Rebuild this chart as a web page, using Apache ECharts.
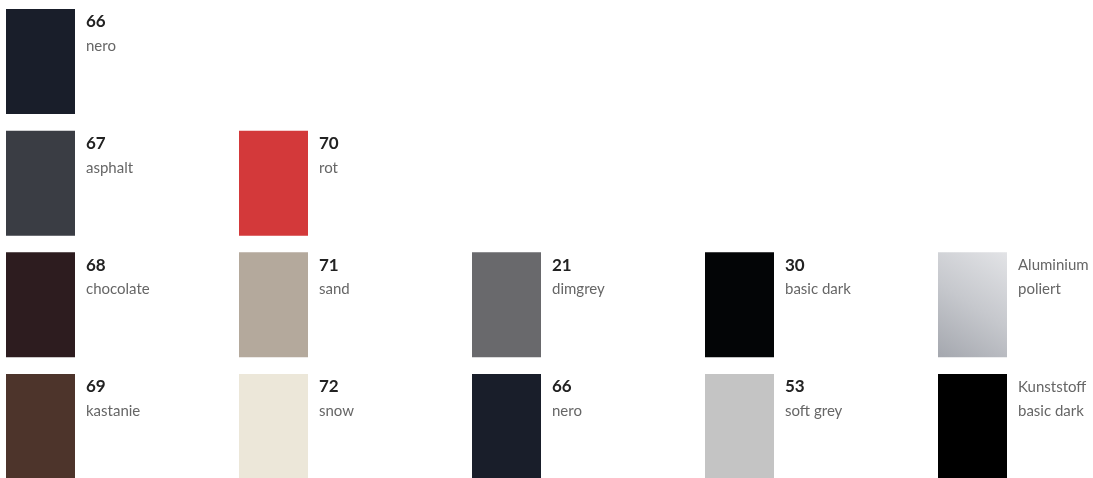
<!DOCTYPE html>
<html>
<head>
<meta charset="utf-8">
<script src="https://cdn.jsdelivr.net/npm/echarts@6/dist/echarts.min.js"></script>
<style>
  html, body { margin: 0; padding: 0; background: #fff; }
  #swatches { width: 1093px; height: 478px; }
</style>
</head>
<body>
<div id="swatches"></div>
<script>
// swatch grid: column / row index, code, name, colour
var cols = [0, 0, 1, 0, 1, 2, 3, 4, 0, 1, 2, 3, 4]
var rows = [0, 1, 1, 2, 2, 2, 2, 2, 3, 3, 3, 3, 3]
var codes = ["66", "67", "70", "68", "71", "21", "30", "", "69", "72", "66", "53", ""]
var names = ["nero", "asphalt", "rot", "chocolate", "sand", "dimgrey", "basic dark", "Aluminium\npoliert",
    "kastanie", "snow", "nero", "soft grey", "Kunststoff\nbasic dark"]
var colors = ["#191e2a", "#3a3d44", "#d3393a", "#2d1c1f", "#b4a99c", "#69696c", "#030506", "alu",
    "#4d342b", "#ece7d9", "#191e2a", "#c4c4c4", "#000000"]

var swatchW = 69
var swatchH = 105

var alu = new echarts.graphic.LinearGradient(1, 0, 0, 1, [
    { offset: 0, color: "#e2e3e6" },
    { offset: 0.5, color: "#c6c8cd" },
    { offset: 1, color: "#a4a7ae" }
])

var data = cols.map(function (c, i) {
    return [c, rows[i], i]
})

var chart = echarts.init(document.getElementById("swatches"))

var option = {
    animation: false,
    grid: { left: 6, top: 9, width: 932, height: 365 },
    xAxis: { type: "value", min: 0, max: 4, show: false },
    yAxis: { type: "value", min: 0, max: 3, inverse: true, show: false },
    series: [
        {
            type: "custom",
            data: data,
            renderItem: function (params, api) {
                var i = api.value(2)
                var p = api.coord([api.value(0), api.value(1)])
                var tx = p[0] + swatchW + 11
                var fill = colors[i] === "alu" ? alu : colors[i]
                var children = [
                    { type: "rect", shape: { x: p[0], y: p[1], width: swatchW, height: swatchH }, style: { fill: fill } }
                ]
                if (codes[i]) {
                    children.push({
                        type: "text",
                        style: { x: tx, y: p[1] + 13, text: codes[i], fill: "#222", font: "bold 17px Lato", verticalAlign: "middle" }
                    })
                    children.push({
                        type: "text",
                        style: { x: tx, y: p[1] + 37, text: names[i], fill: "#666", font: "15px Lato", verticalAlign: "middle" }
                    })
                } else {
                    children.push({
                        type: "text",
                        style: { x: tx, y: p[1] + 1, text: names[i], fill: "#666", font: "15px Lato", lineHeight: 24, verticalAlign: "top" }
                    })
                }
                return { type: "group", children: children }
            }
        }
    ]
}

chart.setOption(option)
</script>
</body>
</html>
